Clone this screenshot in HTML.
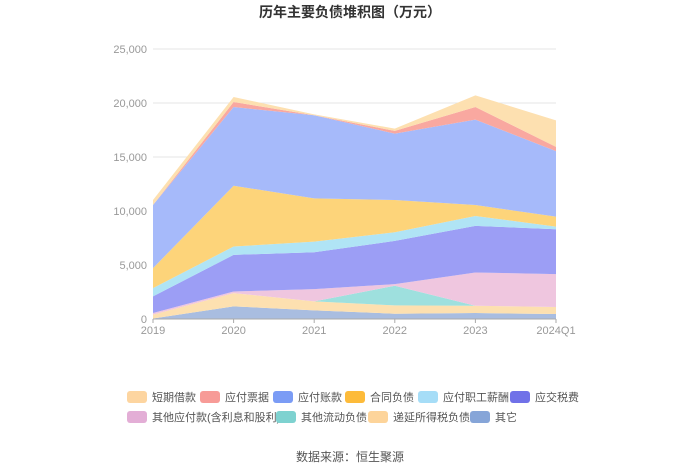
<!DOCTYPE html>
<html><head><meta charset="utf-8">
<style>
body{margin:0;background:#fff;font-family:"Liberation Sans","Noto Sans CJK SC",sans-serif;}
#wrap{position:relative;width:700px;height:474px;overflow:hidden;}
</style></head>
<body>
<div id="wrap">
<svg id="chart" width="700" height="474"></svg>
</div>
<script>
const categories=["2019","2020","2021","2022","2023","2024Q1"];
const seriesNames=["短期借款","应付票据","应付账款","合同负债","应付职工薪酬","应交税费","其他应付款(含利息和股利)","其他流动负债","递延所得税负债","其它"];
const sOther=[50,1170,800,490,550,460];
const sDeferred=[350,1230,830,770,680,650];
const sOtherCurrent=[0,0,0,1820,0,0];
const sOtherPayable=[150,150,1140,150,3080,3040];
const sTax=[1540,3390,3410,4000,4310,4160];
const sSalary=[770,770,990,800,920,240];
const sContract=[1850,5630,4000,2990,1010,930];
const sAccounts=[5840,7290,7690,6150,7910,6060];
const sNotes=[0,460,0,250,1170,400];
const sShort=[470,460,90,210,1080,2450];
const yTicks=[0,5000,10000,15000,20000,25000];
const yTickLabels=["0","5,000","10,000","15,000","20,000","25,000"];

const stackOrder=[sOther,sDeferred,sOtherCurrent,sOtherPayable,sTax,sSalary,sContract,sAccounts,sNotes,sShort];
const stackNames=["其它","递延所得税负债","其他流动负债","其他应付款(含利息和股利)","应交税费","应付职工薪酬","合同负债","应付账款","应付票据","短期借款"];
const fills=["#a9bde0","#fde0b0","#9ee0de","#efc6df","#9c9ef5","#b0e4f5","#fdd47a","#a6bafa","#f9a8a0","#fde0b0"];
const legendColors={"短期借款":"#fdd5a0","应付票据":"#f79b97","应付账款":"#7b9cf5","合同负债":"#fdbb3a","应付职工薪酬":"#a6ddf7","应交税费":"#7071e8","其他应付款(含利息和股利)":"#e3aed6","其他流动负债":"#7ed2d0","递延所得税负债":"#fdd49a","其它":"#86a5d8"};
const X0=153,X1=556,Y0=319,Y1=49,YMAX=25000;
const xs=i=>X0+(X1-X0)*i/(categories.length-1);
const ys=v=>Y0-(Y0-Y1)*v/YMAX;
const NS="http://www.w3.org/2000/svg";
const svg=document.getElementById('chart');
function mk(t,a,p){const e=document.createElementNS(NS,t);for(const k in a)e.setAttribute(k,a[k]);(p||svg).appendChild(e);return e;}

let t=mk('text',{x:350,y:17,'text-anchor':'middle','font-size':14,'font-weight':'bold',fill:'#333'});
t.textContent='历年主要负债堆积图（万元）';



yTicks.forEach((v,i)=>{
 const l=mk('line',{x1:X0,x2:X1,y1:ys(v),y2:ys(v),stroke:i?'#e6e6e6':'#ccc'});
 
 
 const tx=mk('text',{x:X0-6,y:ys(v)+4,'text-anchor':'end','font-size':11,fill:'#999'});
 tx.textContent=yTickLabels[i];
 
 
});

let base=categories.map(()=>0);
stackOrder.forEach((s,k)=>{
 const top=base.map((b,i)=>b+s[i]);
 let d='M'+top.map((v,i)=>xs(i)+','+ys(v)).join('L');
 for(let i=categories.length-1;i>=0;i--)d+='L'+xs(i)+','+ys(base[i]);
 const p=mk('path',{d:d+'Z',fill:fills[k]});
 
 
 base=top;
});

const ax=mk('line',{x1:X0,x2:X1,y1:Y0,y2:Y0,stroke:'#aaa'});


categories.forEach((c,i)=>{
 const tk=mk('line',{x1:xs(i),x2:xs(i),y1:Y0,y2:Y0+4,stroke:'#aaa'});
 
 
 const tx=mk('text',{x:xs(i),y:Y0+15,'text-anchor':'middle','font-size':11,fill:'#999'});
 tx.textContent=c;
 
 
});

const legendPos=[[127,397],[200,397],[273,397],[345,397],[418,397],[510,397],[127,417],[276,417],[368,417],[470,417]];
seriesNames.forEach((n,i)=>{
 const [lx,ly]=legendPos[i];
 const g=mk('g',{});
 
 
 mk('rect',{x:lx,y:ly-6,width:20,height:12,rx:3,fill:legendColors[n]},g);
 const tx=mk('text',{x:lx+25,y:ly+4,'font-size':11,fill:'#555'},g);
 tx.textContent=n;
});

const src=mk('text',{x:350,y:461,'text-anchor':'middle','font-size':12,fill:'#555'});
src.textContent='数据来源：恒生聚源';


</script>
</body></html>
